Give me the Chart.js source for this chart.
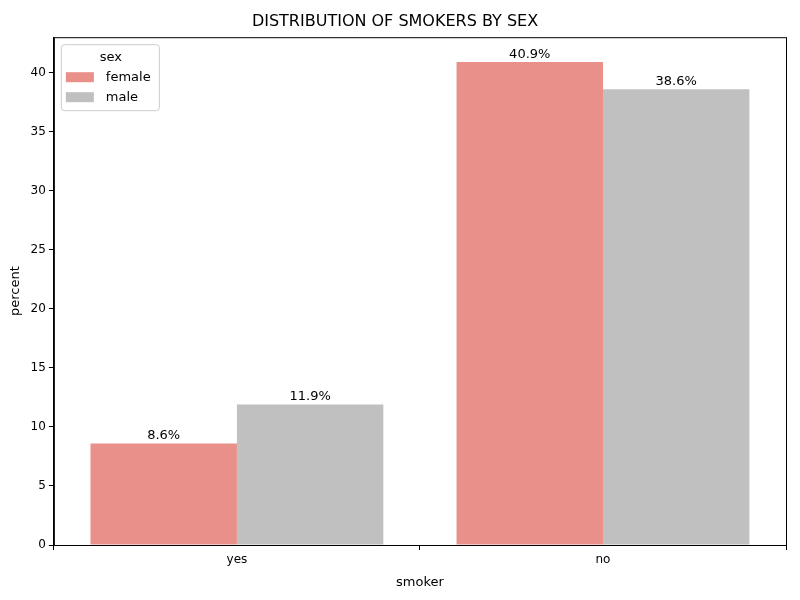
<!DOCTYPE html>
<html>
<head>
<meta charset="utf-8">
<script src="https://cdn.jsdelivr.net/npm/chart.js@4"></script>
<style>
  body { margin: 0; background: #fff; }
  #wrap { width: 800px; height: 600px; }
</style>
</head>
<body>
<div id="wrap"><canvas id="myChart"></canvas></div>
<script>
const categories = ['yes', 'no'];
const femaleValues = [8.6, 40.9];
const maleValues = [11.9, 38.6];
const yTicks = [0, 5, 10, 15, 20, 25, 30, 35, 40];

const femaleColor = '#e9908a';
const maleColor = '#c0c0c0';
const font = 'DejaVu Sans';

// frame, bar labels and legend drawn on top
const extras = {
    id: 'extras',
    afterDatasetsDraw(chart) {
        const ctx = chart.ctx;
        const a = chart.chartArea;
        ctx.save();
        ctx.strokeStyle = '#000';
        ctx.lineWidth = 1;
        ctx.strokeRect(a.left + 0.5, a.top + 0.5, a.right - a.left, a.bottom - a.top);

        ctx.fillStyle = '#000';
        ctx.font = '13px ' + font;
        ctx.textAlign = 'center';
        ctx.textBaseline = 'bottom';
        chart.data.datasets.forEach((ds, i) => {
            chart.getDatasetMeta(i).data.forEach((bar, j) => {
                ctx.fillText(ds.data[j].toFixed(1) + '%', bar.x, bar.y - 1);
            });
        });

        // legend box
        const lx = a.left + 7, ly = a.top + 7;
        ctx.fillStyle = 'rgba(255,255,255,0.8)';
        ctx.strokeStyle = '#ccc';
        ctx.beginPath();
        ctx.roundRect(lx + 0.5, ly + 0.5, 98, 66, 3);
        ctx.fill();
        ctx.stroke();
        ctx.fillStyle = '#000';
        ctx.textAlign = 'center';
        ctx.textBaseline = 'middle';
        ctx.fillText('sex', lx + 50, ly + 13);
        ctx.textAlign = 'left';
        chart.data.datasets.forEach((ds, i) => {
            const y = ly + 33 + i * 20;
            ctx.fillStyle = ds.backgroundColor;
            ctx.fillRect(lx + 5, y - 5, 28, 10);
            ctx.fillStyle = '#000';
            ctx.fillText(ds.label, lx + 45, y);
        });
        ctx.restore();
    }
};

new Chart(document.getElementById('myChart'), {
    type: 'bar',
    data: {
        labels: categories,
        datasets: [
            { label: 'female', data: femaleValues, backgroundColor: femaleColor },
            { label: 'male', data: maleValues, backgroundColor: maleColor }
        ]
    },
    options: {
        responsive: true,
        maintainAspectRatio: false,
        animation: false,
        layout: { padding: { left: 4, right: 14, top: 0, bottom: 6 } },
        datasets: { bar: { categoryPercentage: 0.8, barPercentage: 1.0 } },
        plugins: {
            legend: { display: false },
            tooltip: { enabled: false },
            title: {
                display: true,
                text: 'DISTRIBUTION OF SMOKERS BY SEX',
                color: '#000',
                font: { family: font, size: 16, weight: 'normal' },
                padding: { top: 12, bottom: 6 }
            }
        },
        scales: {
            x: {
                grid: { display: true, drawOnChartArea: false, color: '#000', tickLength: 5 },
                border: { color: '#000' },
                ticks: { color: '#000', font: { family: font, size: 12 } },
                title: { display: true, text: 'smoker', color: '#000', font: { family: font, size: 13 }, padding: { top: 4 } }
            },
            y: {
                min: 0,
                max: 43,
                afterBuildTicks: axis => { axis.ticks = yTicks.map(v => ({ value: v })); },
                grid: { display: true, drawOnChartArea: false, color: '#000', tickLength: 5 },
                border: { color: '#000' },
                ticks: { color: '#000', font: { family: font, size: 12 } },
                title: { display: true, text: 'percent', color: '#000', font: { family: font, size: 13 }, padding: { bottom: 4 } }
            }
        }
    },
    plugins: [extras]
});
</script>
</body>
</html>
